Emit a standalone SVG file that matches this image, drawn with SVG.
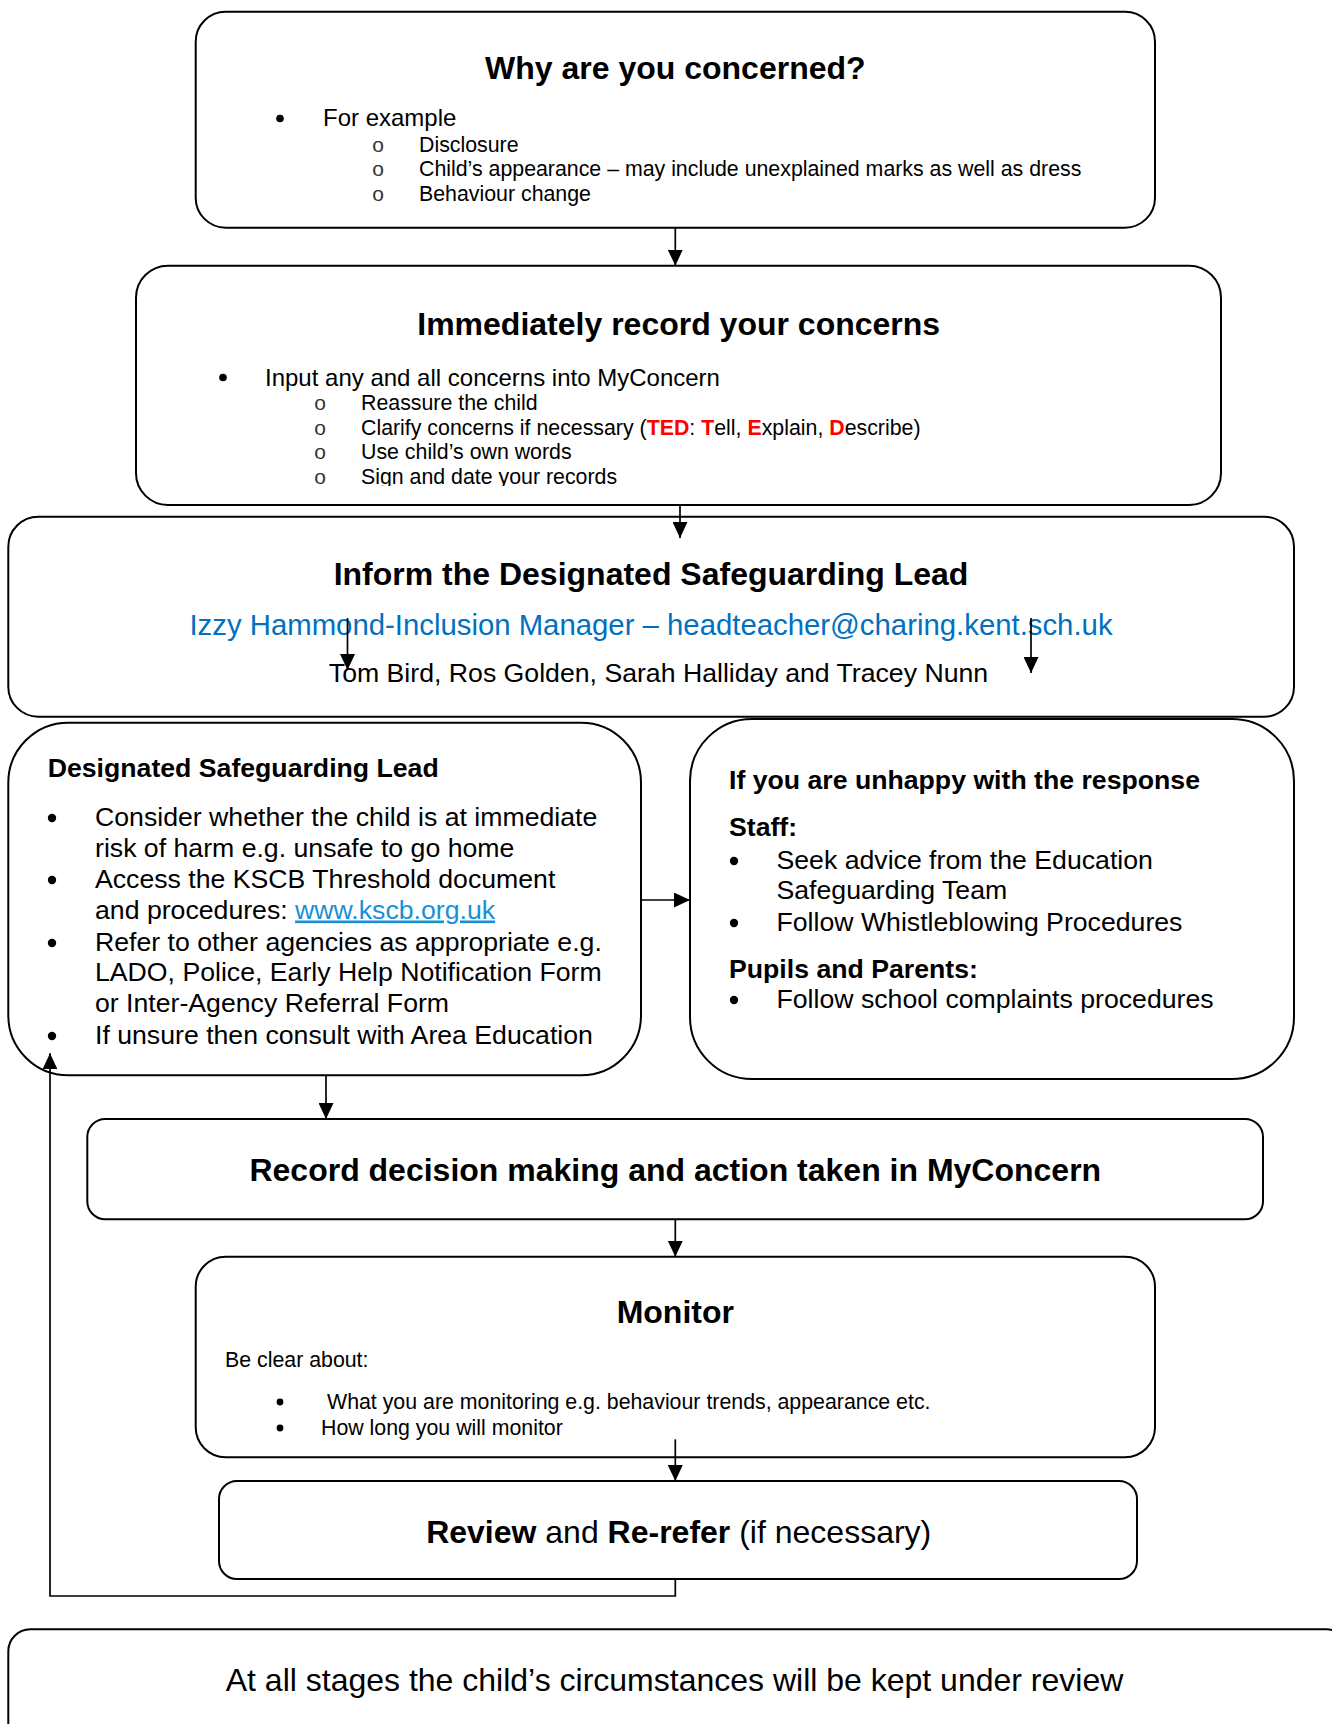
<svg xmlns="http://www.w3.org/2000/svg" width="1332" height="1724" viewBox="0 0 1332 1724">
<style>
text{font-family:"Liberation Sans",Arial,sans-serif;fill:#000}
.box{fill:#fff;stroke:#000;stroke-width:2}
.t32b{font-size:32px;font-weight:bold}
.t32{font-size:32px}
.t27b{font-size:26.67px;font-weight:bold}
.t27{font-size:26.67px}
.t24{font-size:24px}
.t21{font-size:21.33px}
.c{text-anchor:middle}
.o{font-size:21px;text-anchor:middle;fill:#333}
.conn{fill:none;stroke:#000;stroke-width:1.7}
.red{fill:#ff0000;font-weight:bold}
.blue{fill:#0070c0}
.link{fill:#1a8fd6;text-decoration:underline}
.dot{fill:#000}
</style>
<defs>
<marker id="ah" markerWidth="16" markerHeight="15" refX="16" refY="7.5" orient="auto" markerUnits="userSpaceOnUse">
<path d="M0,0 L16,7.5 L0,15 z" fill="#000"/>
</marker>
<clipPath id="clip2"><rect x="136" y="266" width="1085" height="220"/></clipPath>
</defs>
<rect width="1332" height="1724" fill="#fff"/>

<g id="why">
<rect class="box" x="195.7" y="11.7" width="959.3" height="216" rx="30" ry="30"/>
<text class="t32b c" x="675.3" y="79">Why are you concerned?</text>
<circle class="dot" cx="280" cy="118.5" r="3.8"/>
<text class="t24" x="323" y="126">For example</text>
<text class="o" x="378" y="152">o</text>
<text class="t21" x="419" y="152">Disclosure</text>
<text class="o" x="378" y="176">o</text>
<text class="t21" x="419" y="176">Child’s appearance – may include unexplained marks as well as dress</text>
<text class="o" x="378" y="200.5">o</text>
<text class="t21" x="419" y="200.5">Behaviour change</text>
</g>

<g id="record">
<rect class="box" x="136" y="265.7" width="1085" height="239.3" rx="32" ry="32"/>
<g clip-path="url(#clip2)">
<text class="t32b c" x="678.7" y="335">Immediately record your concerns</text>
<circle class="dot" cx="223" cy="377.5" r="3.8"/>
<text class="t24" x="265" y="385.5">Input any and all concerns into MyConcern</text>
<text class="o" x="320" y="410">o</text>
<text class="t21" x="361" y="410">Reassure the child</text>
<text class="o" x="320" y="434.5">o</text>
<text class="t21" x="361" y="434.5">Clarify concerns if necessary (<tspan class="red">TED</tspan>: <tspan class="red">T</tspan>ell, <tspan class="red">E</tspan>xplain, <tspan class="red">D</tspan>escribe)</text>
<text class="o" x="320" y="459">o</text>
<text class="t21" x="361" y="459">Use child’s own words</text>
<text class="o" x="320" y="483.5">o</text>
<text class="t21" x="361" y="483.5">Sign and date your records</text>
</g>
</g>

<g id="inform">
<rect class="box" x="8.3" y="516.7" width="1285.7" height="200" rx="30" ry="30"/>
<text class="t32b c" x="651" y="584.5">Inform the Designated Safeguarding Lead</text>
<text class="c blue" x="651" y="634.5" style="font-size:29.33px">Izzy Hammond-Inclusion Manager – headteacher@charing.kent.sch.uk</text>
<text class="t27 c" x="658.5" y="681.5">Tom Bird, Ros Golden, Sarah Halliday and Tracey Nunn</text>
</g>

<g id="dsl">
<rect class="box" x="8.3" y="722.7" width="632.7" height="352.6" rx="60" ry="60"/>
<text class="t27b" x="47.7" y="776.5">Designated Safeguarding Lead</text>
<circle class="dot" cx="52" cy="818" r="4.2"/>
<text class="t27" x="95" y="825.5">Consider whether the child is at immediate</text>
<text class="t27" x="95" y="856.5">risk of harm e.g. unsafe to go home</text>
<circle class="dot" cx="52" cy="880" r="4.2"/>
<text class="t27" x="95" y="887.5">Access the KSCB Threshold document</text>
<text class="t27" x="95" y="918.5">and procedures: <tspan class="link">www.kscb.org.uk</tspan></text>
<circle class="dot" cx="52" cy="943" r="4.2"/>
<text class="t27" x="95" y="950.5">Refer to other agencies as appropriate e.g.</text>
<text class="t27" x="95" y="980.5">LADO, Police, Early Help Notification Form</text>
<text class="t27" x="95" y="1012">or Inter-Agency Referral Form</text>
<circle class="dot" cx="52" cy="1036" r="4.2"/>
<text class="t27" x="95" y="1043.5">If unsure then consult with Area Education</text>
</g>

<g id="unhappy">
<rect class="box" x="690" y="719" width="604" height="360" rx="62" ry="62"/>
<text class="t27b" x="729" y="788.5">If you are unhappy with the response</text>
<text class="t27b" x="729" y="835.5">Staff:</text>
<circle class="dot" cx="734" cy="861" r="4.2"/>
<text class="t27" x="776.5" y="868.5">Seek advice from the Education</text>
<text class="t27" x="776.5" y="898.5">Safeguarding Team</text>
<circle class="dot" cx="734" cy="923" r="4.2"/>
<text class="t27" x="776.5" y="930.5">Follow Whistleblowing Procedures</text>
<text class="t27b" x="729" y="977.5">Pupils and Parents:</text>
<circle class="dot" cx="734" cy="1000" r="4.2"/>
<text class="t27" x="776.5" y="1007.5">Follow school complaints procedures</text>
</g>

<g id="decision">
<rect class="box" x="87.3" y="1119" width="1175.7" height="100.3" rx="18" ry="18"/>
<text class="t32b c" x="675.3" y="1181">Record decision making and action taken in MyConcern</text>
</g>

<g id="monitor">
<rect class="box" x="195.7" y="1256.7" width="959.3" height="200.6" rx="30" ry="30"/>
<text class="t32b c" x="675.3" y="1323">Monitor</text>
<text class="t21" x="225" y="1367">Be clear about:</text>
<circle class="dot" cx="280" cy="1402" r="3.4"/>
<text class="t21" x="327" y="1409">What you are monitoring e.g. behaviour trends, appearance etc.</text>
<circle class="dot" cx="280" cy="1428" r="3.4"/>
<text class="t21" x="321" y="1435">How long you will monitor</text>
</g>

<g id="review">
<rect class="box" x="219" y="1481" width="918" height="98" rx="18" ry="18"/>
<text class="t32 c" x="678.7" y="1542.7"><tspan font-weight="bold">Review</tspan> and <tspan font-weight="bold">Re-refer</tspan> (if necessary)</text>
</g>

<g id="stages">
<rect class="box" x="8.3" y="1629.3" width="1340" height="200" rx="22" ry="22"/>
<text class="t32 c" x="674.5" y="1691">At all stages the child’s circumstances will be kept under review</text>
</g>

<g id="connectors">
<line class="conn" x1="675.3" y1="227.7" x2="675.3" y2="265.7" marker-end="url(#ah)"/>
<line class="conn" x1="680" y1="505" x2="680" y2="538" marker-end="url(#ah)"/>
<line class="conn" x1="347.5" y1="618" x2="347.5" y2="670" marker-end="url(#ah)"/>
<line class="conn" x1="1031" y1="618" x2="1031" y2="673" marker-end="url(#ah)"/>
<line class="conn" x1="641" y1="900" x2="690" y2="900" marker-end="url(#ah)"/>
<line class="conn" x1="326" y1="1075.3" x2="326" y2="1119" marker-end="url(#ah)"/>
<line class="conn" x1="675.3" y1="1219.3" x2="675.3" y2="1256.7" marker-end="url(#ah)"/>
<line class="conn" x1="675.3" y1="1439.3" x2="675.3" y2="1481" marker-end="url(#ah)"/>
<polyline class="conn" points="675.3,1579 675.3,1596 50,1596 50,1053.3" marker-end="url(#ah)"/>
</g>
</svg>
